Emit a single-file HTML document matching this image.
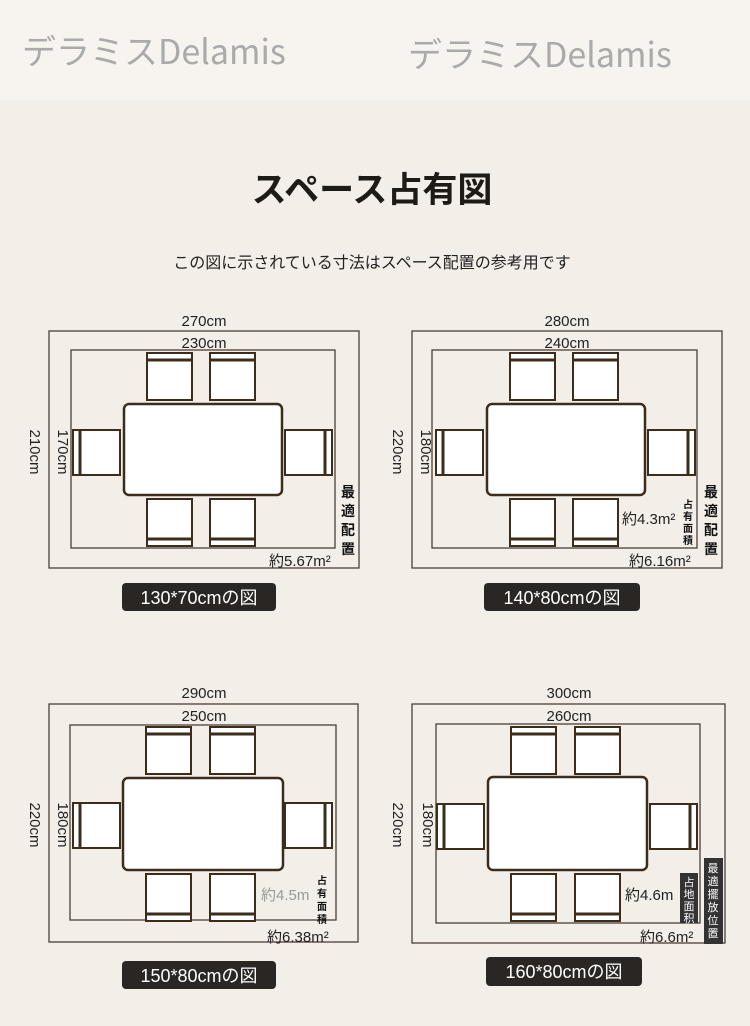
<!DOCTYPE html>
<html><head><meta charset="utf-8"><style>
html,body{margin:0;padding:0;width:750px;height:1026px;overflow:hidden;background:#f3eee7;}
svg{display:block}
text{font-family:"Liberation Sans","Noto Sans CJK JP",sans-serif;}
.wm{font-family:"Noto Sans CJK JP",sans-serif;}
</style></head><body>
<svg width="750" height="1026" viewBox="0 0 750 1026" xmlns="http://www.w3.org/2000/svg">
<defs>
<g id="cT"><rect x="0" y="0" width="45" height="47" fill="#fff" stroke="#3b2c1c" stroke-width="2"/><line x1="0" y1="7" x2="45" y2="7" stroke="#3b2c1c" stroke-width="3"/></g>
<g id="cB"><rect x="0" y="0" width="45" height="47" fill="#fff" stroke="#3b2c1c" stroke-width="2"/><line x1="0" y1="40" x2="45" y2="40" stroke="#3b2c1c" stroke-width="3"/></g>
<g id="cL"><rect x="0" y="0" width="47" height="45" fill="#fff" stroke="#3b2c1c" stroke-width="2"/><line x1="7" y1="0" x2="7" y2="45" stroke="#3b2c1c" stroke-width="3"/></g>
<g id="cR"><rect x="0" y="0" width="47" height="45" fill="#fff" stroke="#3b2c1c" stroke-width="2"/><line x1="40" y1="0" x2="40" y2="45" stroke="#3b2c1c" stroke-width="3"/></g>
</defs>
<rect x="0" y="0" width="750" height="100" fill="#f7f4f0"/>
<text class="wm" x="22" y="64" font-size="34" fill="#aaa">デラミスDelamis</text>
<text class="wm" x="408" y="67" font-size="34" fill="#aaa">デラミスDelamis</text>
<text class="wm" x="372" y="202" font-size="35" font-weight="bold" fill="#1e1a16" text-anchor="middle">スペース占有図</text>
<text class="wm" x="372" y="268" font-size="16" fill="#222" text-anchor="middle">この図に示されている寸法はスペース配置の参考用です</text>

<g fill="none" stroke="#4a4038" stroke-width="1.3">
<rect x="49" y="331" width="310" height="237"/><rect x="71" y="350" width="264" height="198"/>
<rect x="412" y="331" width="310" height="237"/><rect x="432" y="350" width="265" height="198"/>
<rect x="49" y="704" width="309" height="238"/><rect x="70" y="725" width="266" height="195"/>
<rect x="412" y="704" width="313" height="239"/><rect x="436" y="724" width="264" height="199"/>
</g>
<g fill="#fff" stroke="#3b2c1c" stroke-width="2.5">
<rect x="124" y="404" width="158" height="91" rx="5"/>
<rect x="487" y="404" width="158" height="91" rx="5"/>
<rect x="123" y="778" width="160" height="92" rx="5"/>
<rect x="488" y="777" width="159" height="93" rx="5"/>
</g>
<use href="#cT" x="147" y="353"/><use href="#cT" x="210" y="353"/><use href="#cB" x="147" y="499"/><use href="#cB" x="210" y="499"/><use href="#cL" x="73" y="430"/><use href="#cR" x="285" y="430"/>
<use href="#cT" x="510" y="353"/><use href="#cT" x="573" y="353"/><use href="#cB" x="510" y="499"/><use href="#cB" x="573" y="499"/><use href="#cL" x="436" y="430"/><use href="#cR" x="648" y="430"/>
<use href="#cT" x="146" y="727"/><use href="#cT" x="210" y="727"/><use href="#cB" x="146" y="874"/><use href="#cB" x="210" y="874"/><use href="#cL" x="73" y="803"/><use href="#cR" x="285" y="803"/>
<use href="#cT" x="511" y="727"/><use href="#cT" x="575" y="727"/><use href="#cB" x="511" y="874"/><use href="#cB" x="575" y="874"/><use href="#cL" x="437" y="804"/><use href="#cR" x="650" y="804"/>

<g font-size="15" fill="#222" text-anchor="middle">
<text x="204" y="326">270cm</text><text x="204" y="348">230cm</text>
<text x="567" y="326">280cm</text><text x="567" y="348">240cm</text>
<text x="204" y="698">290cm</text><text x="204" y="721">250cm</text>
<text x="569" y="698">300cm</text><text x="569" y="721">260cm</text>
<text transform="translate(30,452) rotate(90)">210cm</text><text transform="translate(58,452) rotate(90)">170cm</text>
<text transform="translate(393,452) rotate(90)">220cm</text><text transform="translate(421,452) rotate(90)">180cm</text>
<text transform="translate(30,825) rotate(90)">220cm</text><text transform="translate(58,825) rotate(90)">180cm</text>
<text transform="translate(393,825) rotate(90)">220cm</text><text transform="translate(423,825) rotate(90)">180cm</text>
</g>
<g font-size="15" fill="#222">
<text x="269" y="566">約5.67m²</text>
<text x="622" y="524">約4.3m²</text><text x="629" y="566">約6.16m²</text>
<text x="261" y="900" fill="#999">約4.5m</text><text x="267" y="942">約6.38m²</text>
<text x="625" y="900">約4.6m</text><text x="640" y="942">約6.6m²</text>
</g>
<g font-size="14" font-weight="bold" fill="#111" text-anchor="middle">
<text x="348" y="497">最</text><text x="348" y="516">適</text><text x="348" y="535">配</text><text x="348" y="554">置</text>
<text x="711" y="497">最</text><text x="711" y="516">適</text><text x="711" y="535">配</text><text x="711" y="554">置</text>
</g>
<g font-size="10" font-weight="bold" fill="#111" text-anchor="middle">
<text x="688" y="508">占</text><text x="688" y="520">有</text><text x="688" y="532">面</text><text x="688" y="544">積</text>
<text x="322" y="884">占</text><text x="322" y="897">有</text><text x="322" y="910">面</text><text x="322" y="923">積</text>
</g>
<rect x="680" y="873" width="18" height="50" fill="#333"/>
<rect x="704" y="858" width="19" height="86" fill="#333"/>
<g font-size="11" fill="#fff" text-anchor="middle">
<text x="689" y="886">占</text><text x="689" y="898">地</text><text x="689" y="910">面</text><text x="689" y="922">积</text>
<text x="713" y="872">最</text><text x="713" y="885">適</text><text x="713" y="898">擺</text><text x="713" y="911">放</text><text x="713" y="924">位</text><text x="713" y="937">置</text>
</g>
<g fill="#2a2624">
<rect x="122" y="583" width="154" height="28" rx="4"/>
<rect x="484" y="583" width="156" height="28" rx="4"/>
<rect x="122" y="961" width="154" height="28" rx="4"/>
<rect x="486" y="957" width="156" height="29" rx="4"/>
</g>
<g font-size="18" fill="#fff" text-anchor="middle">
<text x="199" y="604">130*70cmの図</text>
<text x="562" y="604">140*80cmの図</text>
<text x="199" y="982">150*80cmの図</text>
<text x="564" y="978">160*80cmの図</text>
</g>
</svg>
</body></html>
